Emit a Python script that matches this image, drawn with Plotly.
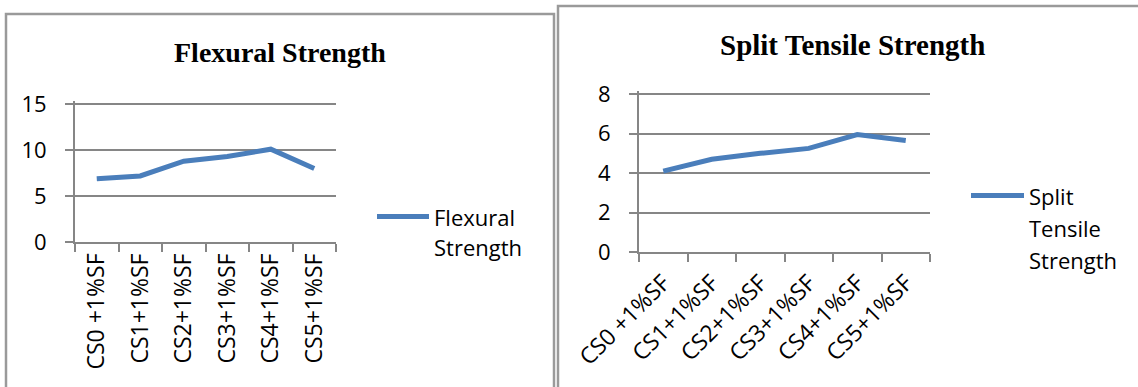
import plotly.graph_objects as go

W, H = 1138, 387

categories = ["CS0 +1%SF", "CS1+1%SF", "CS2+1%SF", "CS3+1%SF", "CS4+1%SF", "CS5+1%SF"]
flexural_strength = [6.9, 7.2, 8.8, 9.3, 10.1, 8.0]
split_tensile_strength = [4.1, 4.7, 5.0, 5.25, 5.95, 5.65]

title_left = "Flexural Strength"
title_right = "Split Tensile Strength"
legend_left = ["Flexural", "Strength"]
legend_right = ["Split", "Tensile", "Strength"]

LINE_COLOR = "#4A7EBB"
GRID = "#868686"
FONT = "Open Sans"


def px(x):
    return x / W


def py(y):
    return (H - y) / H


fig = go.Figure()
fig.add_trace(go.Scatter(x=categories, y=flexural_strength, mode="lines",
                         line=dict(color=LINE_COLOR, width=5), xaxis="x", yaxis="y",
                         showlegend=False, name="Flexural Strength"))
fig.add_trace(go.Scatter(x=categories, y=split_tensile_strength, mode="lines",
                         line=dict(color=LINE_COLOR, width=5), xaxis="x2", yaxis="y2",
                         showlegend=False, name="Split Tensile Strength"))

common_x = dict(type="category", showline=True, linecolor=GRID, linewidth=2,
                ticks="outside", ticklen=8, tickwidth=2, tickcolor=GRID,
                tickson="boundaries", showgrid=False, zeroline=False, automargin=False,
                tickfont=dict(family=FONT, size=23, color="black"))
common_y = dict(showline=True, linecolor=GRID, linewidth=2, showgrid=True,
                gridcolor=GRID, gridwidth=2, zeroline=False, automargin=False,
                ticks="outside", ticklen=8, tickwidth=2, tickcolor=GRID,
                ticklabelstandoff=14,
                tickfont=dict(family=FONT, size=22, color="black"))

fig.update_layout(
    width=W, height=H, margin=dict(l=0, r=0, t=0, b=0, autoexpand=False),
    paper_bgcolor="white", plot_bgcolor="white",
    font=dict(family=FONT, size=21, color="black"),
    xaxis=dict(domain=[px(75), px(336)], anchor="y", tickangle=-90,
               range=[-0.5, 5.5], **common_x),
    yaxis=dict(domain=[py(242.3), py(101.0)], anchor="x", range=[0, 15.33], dtick=5,
               **common_y),
    xaxis2=dict(domain=[px(639), px(930)], anchor="y2", tickangle=-45,
                range=[-0.5, 5.5], ticklabelstandoff=6, **common_x),
    yaxis2=dict(domain=[py(252.3), py(91.0)], anchor="x2", range=[0, 8.15], dtick=2,
                **common_y),
)

shapes = [
    dict(type="rect", xref="paper", yref="paper", x0=px(6), x1=px(554), y0=py(420), y1=py(14),
         line=dict(color="#9a9a9a", width=2.5), fillcolor="rgba(0,0,0,0)", layer="below"),
    dict(type="rect", xref="paper", yref="paper", x0=px(558), x1=px(1160), y0=py(420), y1=py(6),
         line=dict(color="#9a9a9a", width=2.5), fillcolor="rgba(0,0,0,0)", layer="below"),
    dict(type="line", xref="paper", yref="paper", x0=px(377), x1=px(429), y0=py(216.5), y1=py(216.5),
         line=dict(color=LINE_COLOR, width=5)),
    dict(type="line", xref="paper", yref="paper", x0=px(971), x1=px(1024), y0=py(195.5), y1=py(195.5),
         line=dict(color=LINE_COLOR, width=5)),
]
fig.update_layout(shapes=shapes)

annotations = [
    dict(text=title_left, x=px(280), y=py(53), xref="paper", yref="paper",
         xanchor="center", yanchor="middle", showarrow=False,
         font=dict(family="Liberation Serif", size=28, color="black", weight="bold")),
    dict(text=title_right, x=px(852), y=py(45), xref="paper", yref="paper",
         xanchor="center", yanchor="middle", showarrow=False,
         font=dict(family="Liberation Serif", size=29, color="black", weight="bold")),
]
for i, t in enumerate(legend_left):
    annotations.append(dict(text=t, x=px(432), y=py(217 + 30 * i), xref="paper", yref="paper",
                            xanchor="left", yanchor="middle", showarrow=False,
                            font=dict(family=FONT, size=22, color="black")))
for i, t in enumerate(legend_right):
    annotations.append(dict(text=t, x=px(1027), y=py(196 + 32 * i), xref="paper", yref="paper",
                            xanchor="left", yanchor="middle", showarrow=False,
                            font=dict(family=FONT, size=22, color="black")))
fig.update_layout(annotations=annotations)

fig.write_html("out.html")
